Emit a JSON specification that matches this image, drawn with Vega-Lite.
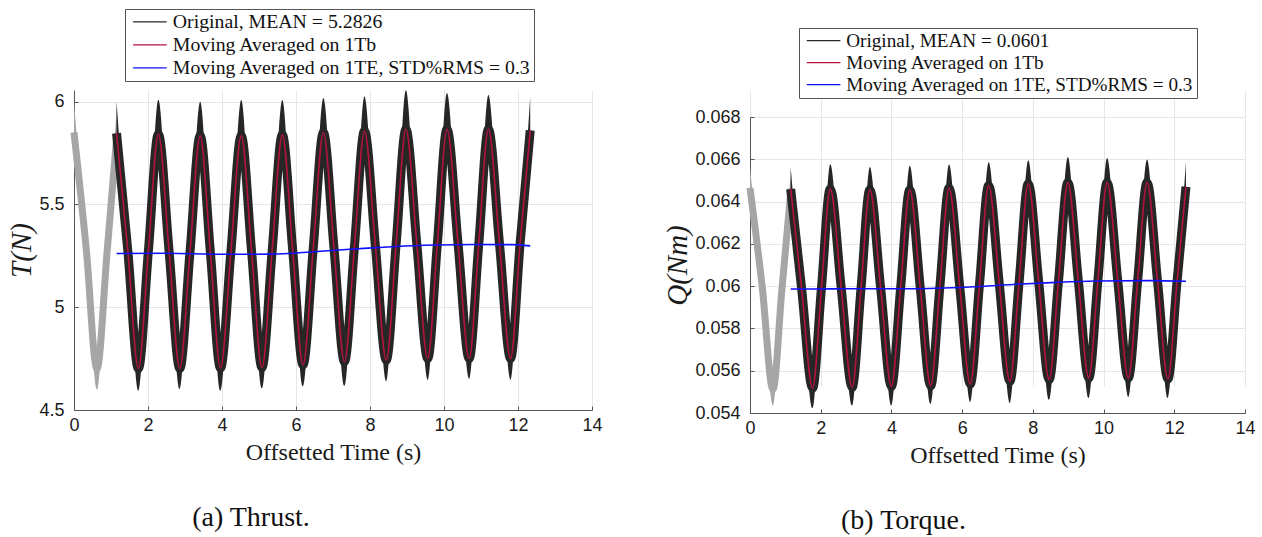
{
  "$schema": "https://vega.github.io/schema/vega-lite/v6.json",
  "background": "white",
  "padding": {"left": 7, "top": 8, "right": 0, "bottom": 0},
  "resolve": {"scale": {"color": "independent"}, "legend": {"color": "independent"}},
  "config": {
    "view": {"stroke": null},
    "concat": {"spacing": 60},
    "axis": {
      "labelFont": "Liberation Sans", "labelFontSize": 18, "labelColor": "#1a1a1a", "labelFlush": false,
      "titleFont": "Liberation Serif", "titleFontSize": 24, "titleFontWeight": "normal", "titleColor": "#1a1a1a",
      "domainColor": "#555555", "tickColor": "#555555", "tickSize": -4,
      "gridColor": "#e6e6e6", "gridWidth": 1
    },
    "legend": {
      "labelFont": "Liberation Serif", "labelFontSize": 19.8, "labelColor": "#111111", "labelLimit": 420,
      "symbolType": "M-2.1,0H2.1", "symbolSize": 256, "symbolStrokeWidth": 1.3, "symbolOffset": 12, "labelOffset": 13,
      "strokeColor": "#555555", "fillColor": "white", "padding": 3, "rowPadding": 2, "title": null
    },
    "title": {"font": "Liberation Serif", "fontSize": 28, "fontWeight": "normal", "color": "#111111", "orient": "bottom", "anchor": "middle", "offset": 40}
  },
  "datasets": {
    "thrust_gray": [
      {"t": 0, "v": 5.85, "hi": 6.0, "lo": 5.73},
      {"t": 0.335, "v": 5.275, "hi": 5.275, "lo": 5.275},
      {"t": 0.62, "v": 4.7, "hi": 4.8, "lo": 4.6},
      {"t": 0.895, "v": 5.27, "hi": 5.27, "lo": 5.27},
      {"t": 1.16, "v": 5.84, "hi": 5.99, "lo": 5.72}
    ],
    "thrust_osc": [
      {"t": 1.15, "v": 5.846, "hi": 6.003, "lo": 5.72},
      {"t": 1.455, "v": 5.274, "hi": 5.274, "lo": 5.274},
      {"t": 1.74, "v": 4.702, "hi": 4.8, "lo": 4.594},
      {"t": 2.01, "v": 5.272, "hi": 5.272, "lo": 5.272},
      {"t": 2.28, "v": 5.841, "hi": 6.008, "lo": 5.716},
      {"t": 2.57, "v": 5.272, "hi": 5.272, "lo": 5.272},
      {"t": 2.86, "v": 4.702, "hi": 4.8, "lo": 4.602},
      {"t": 3.135, "v": 5.268, "hi": 5.268, "lo": 5.268},
      {"t": 3.41, "v": 5.833, "hi": 5.999, "lo": 5.708},
      {"t": 3.685, "v": 5.269, "hi": 5.269, "lo": 5.269},
      {"t": 3.96, "v": 4.704, "hi": 4.8, "lo": 4.594},
      {"t": 4.24, "v": 5.269, "hi": 5.269, "lo": 5.269},
      {"t": 4.52, "v": 5.833, "hi": 6.007, "lo": 5.708},
      {"t": 4.8, "v": 5.27, "hi": 5.27, "lo": 5.27},
      {"t": 5.08, "v": 4.707, "hi": 4.81, "lo": 4.607},
      {"t": 5.355, "v": 5.273, "hi": 5.273, "lo": 5.273},
      {"t": 5.63, "v": 5.838, "hi": 6.007, "lo": 5.713},
      {"t": 5.91, "v": 5.279, "hi": 5.279, "lo": 5.279},
      {"t": 6.19, "v": 4.72, "hi": 4.82, "lo": 4.615},
      {"t": 6.465, "v": 5.285, "hi": 5.285, "lo": 5.285},
      {"t": 6.74, "v": 5.849, "hi": 6.017, "lo": 5.724},
      {"t": 7.025, "v": 5.292, "hi": 5.292, "lo": 5.292},
      {"t": 7.31, "v": 4.735, "hi": 4.835, "lo": 4.618},
      {"t": 7.58, "v": 5.296, "hi": 5.296, "lo": 5.296},
      {"t": 7.85, "v": 5.857, "hi": 6.024, "lo": 5.732},
      {"t": 8.145, "v": 5.3, "hi": 5.3, "lo": 5.3},
      {"t": 8.44, "v": 4.743, "hi": 4.845, "lo": 4.639},
      {"t": 8.705, "v": 5.304, "hi": 5.304, "lo": 5.304},
      {"t": 8.97, "v": 5.865, "hi": 6.055, "lo": 5.74},
      {"t": 9.265, "v": 5.308, "hi": 5.308, "lo": 5.308},
      {"t": 9.56, "v": 4.751, "hi": 4.85, "lo": 4.646},
      {"t": 9.82, "v": 5.308, "hi": 5.308, "lo": 5.308},
      {"t": 10.08, "v": 5.865, "hi": 6.041, "lo": 5.74},
      {"t": 10.38, "v": 5.308, "hi": 5.308, "lo": 5.308},
      {"t": 10.68, "v": 4.751, "hi": 4.85, "lo": 4.652},
      {"t": 10.94, "v": 5.308, "hi": 5.308, "lo": 5.308},
      {"t": 11.2, "v": 5.865, "hi": 6.032, "lo": 5.74},
      {"t": 11.5, "v": 5.308, "hi": 5.308, "lo": 5.308},
      {"t": 11.8, "v": 4.751, "hi": 4.85, "lo": 4.646},
      {"t": 12.055, "v": 5.306, "hi": 5.306, "lo": 5.306},
      {"t": 12.33, "v": 5.86, "hi": 6.024, "lo": 5.735}
    ],
    "thrust_blue": [
      {"t": 1.15, "v": 5.261},
      {"t": 2.5, "v": 5.262},
      {"t": 4.0, "v": 5.257},
      {"t": 5.3, "v": 5.258},
      {"t": 6.57, "v": 5.271},
      {"t": 7.94, "v": 5.287},
      {"t": 8.7, "v": 5.295},
      {"t": 9.77, "v": 5.302},
      {"t": 10.8, "v": 5.305},
      {"t": 11.8, "v": 5.304},
      {"t": 12.33, "v": 5.298}
    ],
    "torque_gray": [
      {"t": 0, "v": 0.06465, "hi": 0.06565, "lo": 0.06375},
      {"t": 0.35, "v": 0.0599, "hi": 0.0599, "lo": 0.0599},
      {"t": 0.65, "v": 0.0551, "hi": 0.0558, "lo": 0.05436},
      {"t": 0.9, "v": 0.0598, "hi": 0.0598, "lo": 0.0598},
      {"t": 1.16, "v": 0.0646, "hi": 0.0656, "lo": 0.0637}
    ],
    "torque_osc": [
      {"t": 1.15, "v": 0.0646, "hi": 0.06564, "lo": 0.0637},
      {"t": 1.46, "v": 0.05989, "hi": 0.05989, "lo": 0.05989},
      {"t": 1.77, "v": 0.05518, "hi": 0.05608, "lo": 0.05424},
      {"t": 2.02, "v": 0.05989, "hi": 0.05989, "lo": 0.05989},
      {"t": 2.27, "v": 0.0646, "hi": 0.06576, "lo": 0.0637},
      {"t": 2.58, "v": 0.05991, "hi": 0.05991, "lo": 0.05991},
      {"t": 2.89, "v": 0.05522, "hi": 0.05612, "lo": 0.05436},
      {"t": 3.14, "v": 0.05989, "hi": 0.05989, "lo": 0.05989},
      {"t": 3.39, "v": 0.06456, "hi": 0.06564, "lo": 0.06366},
      {"t": 3.695, "v": 0.05991, "hi": 0.05991, "lo": 0.05991},
      {"t": 4.0, "v": 0.05526, "hi": 0.05616, "lo": 0.05435},
      {"t": 4.26, "v": 0.05991, "hi": 0.05991, "lo": 0.05991},
      {"t": 4.52, "v": 0.06456, "hi": 0.0657, "lo": 0.06366},
      {"t": 4.815, "v": 0.05993, "hi": 0.05993, "lo": 0.05993},
      {"t": 5.11, "v": 0.05529, "hi": 0.05619, "lo": 0.05443},
      {"t": 5.37, "v": 0.05997, "hi": 0.05997, "lo": 0.05997},
      {"t": 5.63, "v": 0.06464, "hi": 0.06575, "lo": 0.06374},
      {"t": 5.93, "v": 0.06001, "hi": 0.06001, "lo": 0.06001},
      {"t": 6.23, "v": 0.05537, "hi": 0.05627, "lo": 0.05452},
      {"t": 6.49, "v": 0.06007, "hi": 0.06007, "lo": 0.06007},
      {"t": 6.75, "v": 0.06476, "hi": 0.06586, "lo": 0.06386},
      {"t": 7.05, "v": 0.06013, "hi": 0.06013, "lo": 0.06013},
      {"t": 7.35, "v": 0.0555, "hi": 0.0564, "lo": 0.05447},
      {"t": 7.61, "v": 0.06017, "hi": 0.06017, "lo": 0.06017},
      {"t": 7.87, "v": 0.06484, "hi": 0.06595, "lo": 0.06394},
      {"t": 8.165, "v": 0.06021, "hi": 0.06021, "lo": 0.06021},
      {"t": 8.46, "v": 0.05558, "hi": 0.05648, "lo": 0.05463},
      {"t": 8.725, "v": 0.06024, "hi": 0.06024, "lo": 0.06024},
      {"t": 8.99, "v": 0.0649, "hi": 0.06611, "lo": 0.064},
      {"t": 9.285, "v": 0.06028, "hi": 0.06028, "lo": 0.06028},
      {"t": 9.58, "v": 0.05566, "hi": 0.05656, "lo": 0.05471},
      {"t": 9.84, "v": 0.06028, "hi": 0.06028, "lo": 0.06028},
      {"t": 10.1, "v": 0.0649, "hi": 0.06606, "lo": 0.064},
      {"t": 10.4, "v": 0.06028, "hi": 0.06028, "lo": 0.06028},
      {"t": 10.7, "v": 0.05566, "hi": 0.05656, "lo": 0.05476},
      {"t": 10.965, "v": 0.06028, "hi": 0.06028, "lo": 0.06028},
      {"t": 11.23, "v": 0.0649, "hi": 0.06599, "lo": 0.064},
      {"t": 11.525, "v": 0.06026, "hi": 0.06026, "lo": 0.06026},
      {"t": 11.82, "v": 0.05561, "hi": 0.05651, "lo": 0.05471},
      {"t": 12.075, "v": 0.06016, "hi": 0.06016, "lo": 0.06016},
      {"t": 12.33, "v": 0.0647, "hi": 0.0659, "lo": 0.0638}
    ],
    "torque_blue": [
      {"t": 1.15, "v": 0.059865},
      {"t": 2.3, "v": 0.05987},
      {"t": 3.5, "v": 0.05988},
      {"t": 4.6, "v": 0.05988},
      {"t": 6.2, "v": 0.05996},
      {"t": 7.55, "v": 0.06009},
      {"t": 8.67, "v": 0.06018},
      {"t": 9.78, "v": 0.06024},
      {"t": 11.35, "v": 0.06026},
      {"t": 12.33, "v": 0.06023}
    ]
  },
  "hconcat": [
    {
      "width": 518,
      "height": 320,
      "title": {"text": "(a) Thrust.", "dx": -82},
      "layer": [
        {
          "data": {"name": "thrust_gray"},
          "mark": {"type": "area", "interpolate": "monotone", "color": "#a6a6a6"},
          "encoding": {
            "x": {"field": "t", "type": "quantitative", "scale": {"domain": [0, 14], "nice": false},
                  "axis": {"values": [0, 2, 4, 6, 8, 10, 12, 14], "grid": true, "title": "Offsetted Time (s)", "labelPadding": 10, "titlePadding": 6}},
            "y": {"field": "hi", "type": "quantitative", "scale": {"domain": [4.5, 6.056], "nice": false, "zero": false},
                  "axis": {"values": [4.5, 5, 5.5, 6], "format": "~g", "grid": true, "title": "T(N)", "titleFontStyle": "italic", "titleFontSize": 29, "labelPadding": 14, "titlePadding": 2}},
            "y2": {"field": "lo"}
          }
        },
        {
          "data": {"name": "thrust_gray"},
          "mark": {"type": "line", "interpolate": "monotone", "color": "#a6a6a6", "strokeWidth": 7},
          "encoding": {
            "x": {"field": "t", "type": "quantitative"},
            "y": {"field": "v", "type": "quantitative"}
          }
        },
        {
          "data": {"name": "thrust_osc"},
          "mark": {"type": "area", "interpolate": "monotone", "color": "#262626"},
          "encoding": {
            "x": {"field": "t", "type": "quantitative"},
            "y": {"field": "hi", "type": "quantitative"},
            "y2": {"field": "lo"}
          }
        },
        {
          "data": {"name": "thrust_osc"},
          "mark": {"type": "line", "interpolate": "monotone", "strokeWidth": 9},
          "encoding": {
            "x": {"field": "t", "type": "quantitative"},
            "y": {"field": "v", "type": "quantitative"},
            "color": {"datum": "Original, MEAN = 5.2826", "type": "nominal",
                      "scale": {"domain": ["Original, MEAN = 5.2826", "Moving Averaged on 1Tb", "Moving Averaged on 1TE, STD%RMS = 0.3"], "range": ["#262626", "#b5123e", "#0f0fff"]},
                      "legend": {"orient": "none", "legendX": 51, "legendY": -81}}
          }
        },
        {
          "data": {"name": "thrust_osc"},
          "mark": {"type": "line", "interpolate": "monotone", "strokeWidth": 1.6},
          "encoding": {
            "x": {"field": "t", "type": "quantitative"},
            "y": {"field": "v", "type": "quantitative"},
            "color": {"datum": "Moving Averaged on 1Tb", "type": "nominal"}
          }
        },
        {
          "data": {"name": "thrust_blue"},
          "mark": {"type": "line", "interpolate": "monotone", "strokeWidth": 1.6},
          "encoding": {
            "x": {"field": "t", "type": "quantitative"},
            "y": {"field": "v", "type": "quantitative"},
            "color": {"datum": "Moving Averaged on 1TE, STD%RMS = 0.3", "type": "nominal"}
          }
        }
      ]
    },
    {
      "width": 495,
      "height": 323,
      "title": {"text": "(b) Torque.", "dx": -94},
      "layer": [
        {
          "data": {"name": "torque_gray"},
          "mark": {"type": "area", "interpolate": "monotone", "color": "#a6a6a6"},
          "encoding": {
            "x": {"field": "t", "type": "quantitative", "scale": {"domain": [0, 14], "nice": false},
                  "axis": {"values": [0, 2, 4, 6, 8, 10, 12, 14], "grid": true, "title": "Offsetted Time (s)", "labelPadding": 10, "titlePadding": 6}},
            "y": {"field": "hi", "type": "quantitative", "scale": {"domain": [0.054, 0.068], "range": [323, 27], "nice": false, "zero": false},
                  "axis": {"values": [0.054, 0.056, 0.058, 0.06, 0.062, 0.064, 0.066, 0.068], "format": "~g", "grid": true, "title": "Q(Nm)", "titleFontStyle": "italic", "titleFontSize": 29, "labelPadding": 14, "titlePadding": 2}},
            "y2": {"field": "lo"}
          }
        },
        {
          "data": {"name": "torque_gray"},
          "mark": {"type": "line", "interpolate": "monotone", "color": "#a6a6a6", "strokeWidth": 7},
          "encoding": {
            "x": {"field": "t", "type": "quantitative"},
            "y": {"field": "v", "type": "quantitative"}
          }
        },
        {
          "data": {"name": "torque_osc"},
          "mark": {"type": "area", "interpolate": "monotone", "color": "#262626"},
          "encoding": {
            "x": {"field": "t", "type": "quantitative"},
            "y": {"field": "hi", "type": "quantitative"},
            "y2": {"field": "lo"}
          }
        },
        {
          "data": {"name": "torque_osc"},
          "mark": {"type": "line", "interpolate": "monotone", "strokeWidth": 9},
          "encoding": {
            "x": {"field": "t", "type": "quantitative"},
            "y": {"field": "v", "type": "quantitative"},
            "color": {"datum": "Original, MEAN = 0.0601", "type": "nominal",
                      "scale": {"domain": ["Original, MEAN = 0.0601", "Moving Averaged on 1Tb", "Moving Averaged on 1TE, STD%RMS = 0.3"], "range": ["#262626", "#b5123e", "#0f0fff"]},
                      "legend": {"orient": "none", "legendX": 49, "legendY": -62, "labelFontSize": 19.2}}
          }
        },
        {
          "data": {"name": "torque_osc"},
          "mark": {"type": "line", "interpolate": "monotone", "strokeWidth": 1.6},
          "encoding": {
            "x": {"field": "t", "type": "quantitative"},
            "y": {"field": "v", "type": "quantitative"},
            "color": {"datum": "Moving Averaged on 1Tb", "type": "nominal"}
          }
        },
        {
          "data": {"name": "torque_blue"},
          "mark": {"type": "line", "interpolate": "monotone", "strokeWidth": 1.6},
          "encoding": {
            "x": {"field": "t", "type": "quantitative"},
            "y": {"field": "v", "type": "quantitative"},
            "color": {"datum": "Moving Averaged on 1TE, STD%RMS = 0.3", "type": "nominal"}
          }
        }
      ]
    }
  ]
}
